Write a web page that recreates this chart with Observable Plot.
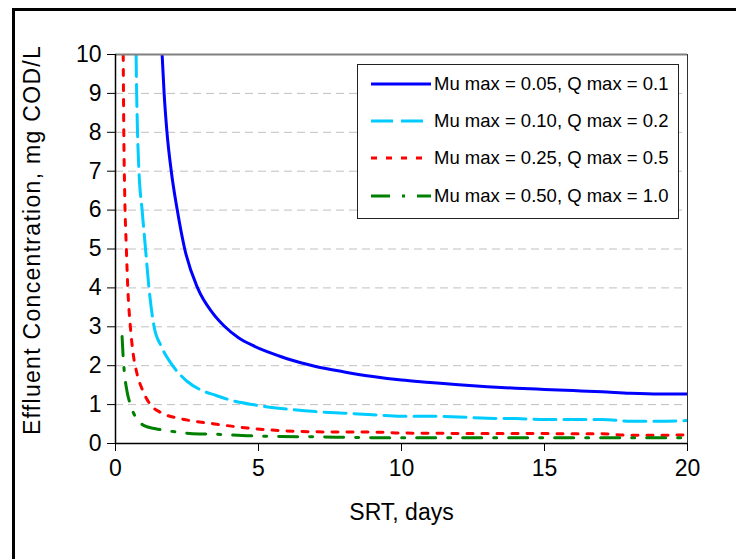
<!DOCTYPE html>
<html>
<head>
<meta charset="utf-8">
<script src="https://cdn.jsdelivr.net/npm/d3@7"></script>
<script src="https://cdn.jsdelivr.net/npm/@observablehq/plot@0.6"></script>
<style>
  html, body { margin: 0; padding: 0; background: #fff; }
  #wrap { position: relative; width: 736px; height: 559px; overflow: hidden; font-family: "Liberation Sans", Arial, sans-serif; }
  #frame { position: absolute; left: 12px; top: 8px; width: 760px; height: 600px; border: 3px solid #000; box-sizing: border-box; pointer-events: none; }
  #legend { position: absolute; left: 357px; top: 64px; width: 322px; height: 155px; border: 1px solid #222; background: #fff; box-sizing: border-box; }
  .entry { position: absolute; left: 0; height: 22px; width: 320px; }
  .entry svg { position: absolute; left: 12px; top: 0; }
  .entry span { position: absolute; left: 76px; top: 0; font-size: 18.5px; line-height: 22px; color: #000; white-space: nowrap; }
  #chart { position: absolute; left: 0; top: 0; }
  .ytitle text { letter-spacing: 1.3px; }
</style>
</head>
<body>
<div id="wrap">
  <div id="frame"></div>
  <div id="chart"></div>
  <div id="legend"></div>
</div>
<script>
// ---- data ----
const seriesNames = [
  "Mu max = 0.05, Q max = 0.1",
  "Mu max = 0.10, Q max = 0.2",
  "Mu max = 0.25, Q max = 0.5",
  "Mu max = 0.50, Q max = 1.0"
];
const seriesColors = ["#0000FF", "#00CCFF", "#FF0000", "#008000"];
const seriesDash = [null, "22,8", "6,9", "19,12,3,12"];

const blueSRT = [1.63, 1.7, 1.8, 1.95, 2.16, 2.42, 2.87, 3.4, 3.8, 4.3, 4.8, 5.3, 6, 7, 8, 9, 10, 11, 12, 13, 14, 15, 16, 17, 18, 19, 20];
const blueC   = [10, 9, 8, 7, 6, 5, 4, 3.35, 3.02, 2.72, 2.52, 2.36, 2.18, 1.98, 1.84, 1.72, 1.63, 1.57, 1.51, 1.46, 1.42, 1.39, 1.36, 1.33, 1.29, 1.27, 1.27];

const cyanSRT = [0.72, 0.74, 0.77, 0.82, 0.93, 1.05, 1.17, 1.35, 1.6, 2.0, 2.5, 3, 3.5, 4, 4.8, 5.8, 7, 8, 9, 10, 11, 12, 13, 14, 15, 16, 17, 18, 19, 20];
const cyanC   = [10, 9, 8, 7, 6, 5, 4, 3, 2.5, 2.0, 1.6, 1.37, 1.24, 1.12, 1.0, 0.9, 0.82, 0.78, 0.74, 0.7, 0.7, 0.68, 0.65, 0.64, 0.62, 0.62, 0.62, 0.57, 0.57, 0.59];

const redSRT = [0.27, 0.29, 0.32, 0.38, 0.43, 0.52, 0.62, 0.75, 0.93, 1.22, 1.57, 2.27, 3.4, 4.6, 5.8, 7, 9.3, 10, 12, 14, 16, 17, 18, 20];
const redC   = [10, 8, 6.5, 5, 4, 3, 2.3, 1.8, 1.4, 1.0, 0.8, 0.64, 0.51, 0.4, 0.33, 0.3, 0.29, 0.27, 0.26, 0.26, 0.25, 0.25, 0.21, 0.22];

const greenSRT = [0.23, 0.27, 0.31, 0.4, 0.52, 0.7, 1.0, 1.4, 1.8, 2.6, 3.4, 4.6, 5.8, 7, 9.3, 12, 15, 20];
const greenC   = [2.75, 2.2, 1.83, 1.35, 1.0, 0.68, 0.46, 0.38, 0.33, 0.26, 0.24, 0.2, 0.18, 0.17, 0.15, 0.15, 0.15, 0.15];

const xTicks = [0, 5, 10, 15, 20];
const yTicks = [0, 1, 2, 3, 4, 5, 6, 7, 8, 9, 10];
const gridY = [1, 2, 3, 4, 5, 6, 7, 8, 9];
const xTitle = "SRT, days";
const yTitle = "Effluent Concentration, mg COD/L";

// ---- build tables ----
const srtArrays = [blueSRT, cyanSRT, redSRT, greenSRT];
const cArrays = [blueC, cyanC, redC, greenC];
const tables = srtArrays.map((s, i) => s.map((x, j) => ({srt: x, c: cArrays[i][j]})));

const font = '"Liberation Sans", Arial, sans-serif';
const fs = 23;

const chart = Plot.plot({
  width: 736,
  height: 559,
  marginLeft: 115,
  marginRight: 49,
  marginTop: 54,
  marginBottom: 116,
  style: {fontFamily: font, fontSize: fs + "px", background: "transparent", color: "#000"},
  x: {domain: [0, 20]},
  y: {domain: [0, 10]},
  marks: [
    Plot.ruleY(gridY, {stroke: "#c0c0c0", strokeWidth: 1, strokeDasharray: "8,5"}),
    ...tables.map((t, i) => Plot.line(t, {
      x: "srt", y: "c", stroke: seriesColors[i], strokeWidth: 3, curve: "monotone-x",
      strokeDasharray: seriesDash[i] || undefined, clip: true
    })),
    Plot.ruleY([10], {stroke: "#808080", strokeWidth: 2}),
    Plot.ruleX([20], {stroke: "#333", strokeWidth: 1}),
    Plot.ruleX([0], {stroke: "#000", strokeWidth: 1.5}),
    Plot.ruleY([0], {stroke: "#000", strokeWidth: 1.5}),
    Plot.axisY({ticks: yTicks, tickSize: 8, tickPadding: 6, tickFormat: d => String(d), label: null, fontSize: fs}),
    Plot.axisX({ticks: xTicks, tickSize: 8, tickPadding: 8, tickFormat: d => String(d), label: null, fontSize: fs}),
    Plot.text([xTitle], {text: d => d, frameAnchor: "bottom", dy: 76, fontSize: fs}),
    Plot.text([yTitle], {text: d => d, frameAnchor: "left", dx: -83, dy: -9, rotate: -90, textAnchor: "middle", fontSize: fs, className: "ytitle"})
  ]
});
document.getElementById("chart").appendChild(chart);

// ---- legend ----
const legend = document.getElementById("legend");
const entryTops = [8, 45, 82, 120];
seriesNames.forEach((name, i) => {
  const e = document.createElement("div");
  e.className = "entry";
  e.style.top = entryTops[i] + "px";
  const dash = seriesDash[i] ? `stroke-dasharray="${seriesDash[i]}"` : "";
  e.innerHTML = `<svg width="62" height="22"><line x1="1" x2="61" y1="11" y2="11" stroke="${seriesColors[i]}" stroke-width="3" ${dash}/></svg><span>${name}</span>`;
  legend.appendChild(e);
});
</script>
</body>
</html>
